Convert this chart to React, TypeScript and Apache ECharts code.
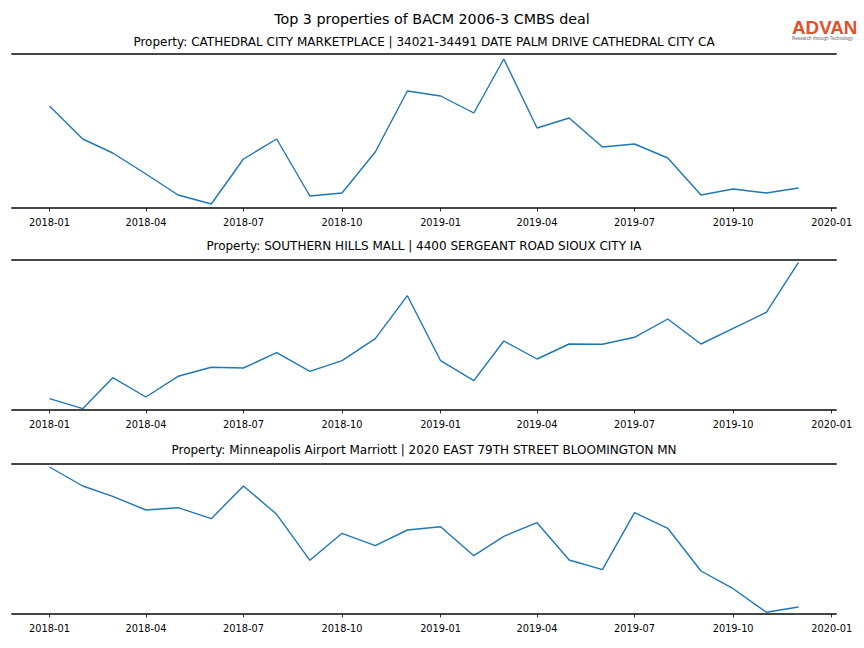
import React, { useEffect, useRef } from "react";
import * as echarts from "echarts";

const months = [
  "2018-01", "2018-02", "2018-03", "2018-04", "2018-05", "2018-06",
  "2018-07", "2018-08", "2018-09", "2018-10", "2018-11", "2018-12",
  "2019-01", "2019-02", "2019-03", "2019-04", "2019-05", "2019-06",
  "2019-07", "2019-08", "2019-09", "2019-10", "2019-11", "2019-12",
];

const tickLabels = [
  "2018-01", "2018-04", "2018-07", "2018-10", "2019-01",
  "2019-04", "2019-07", "2019-10", "2020-01",
];

const mainTitle = "Top 3 properties of BACM 2006-3 CMBS deal";

const panelTitles = [
  "Property: CATHEDRAL CITY MARKETPLACE | 34021-34491 DATE PALM DRIVE CATHEDRAL CITY CA",
  "Property: SOUTHERN HILLS MALL | 4400 SERGEANT ROAD SIOUX CITY IA",
  "Property: Minneapolis Airport Marriott | 2020 EAST 79TH STREET BLOOMINGTON MN",
];

const cathedralCity = [
  104, 71, 57, 36, 15, 6, 51, 71, 14, 17, 58, 119,
  114, 97, 151, 82, 92, 63, 66, 52, 15, 21, 17, 22,
];

const southernHills = [
  11.3, 1.3, 32.3, 13, 33.7, 42.7, 42, 57.3, 38.7, 49.3, 71.3, 114.3,
  49.3, 29.3, 69, 51, 66, 65.7, 72.7, 91, 66, 81.7, 97.7, 147.7,
];

const minneapolis = [
  147, 128, 117.7, 104, 106.3, 95.3, 128, 99.7, 53.7, 80.7, 68.3, 84,
  87.3, 58.3, 77.7, 91.3, 54, 44.3, 101.3, 85.7, 43, 25.3, 1.7, 7,
];

const seriesList = [cathedralCity, southernHills, minneapolis];
const yRanges = [
  [2, 156],
  [0, 150],
  [0, 150],
];

function toTime(s: string): number {
  const [y, m] = s.split("-").map(Number);
  return new Date(y, m - 1, 1).getTime();
}

function fmt(v: number): string {
  const d = new Date(v);
  const m = d.getMonth() + 1;
  return `${d.getFullYear()}-${m < 10 ? "0" + m : m}`;
}

export default function App() {
  const ref = useRef<HTMLDivElement>(null);

  useEffect(() => {
    if (!ref.current) return;
    const chart = echarts.init(ref.current, undefined, { renderer: "svg" });

    const xMin = new Date(2017, 10, 27).getTime();
    const xMax = new Date(2020, 0, 5).getTime();
    const tickValues = tickLabels.map(toTime);

    const grids = [
      { left: 12, right: 28, top: 54, height: 154 },
      { left: 12, right: 28, top: 260, height: 150 },
      { left: 12, right: 28, top: 464, height: 150 },
    ];

    const spine = { show: true, lineStyle: { color: "#454545", width: 2 } };

    const xAxes: any[] = [];
    const yAxes: any[] = [];
    const series: any[] = [];
    grids.forEach((_, i) => {
      xAxes.push({
        type: "value",
        gridIndex: i,
        min: xMin,
        max: xMax,
        position: "bottom",
        axisLine: spine,
        axisTick: {
          show: true,
          length: 3.5,
          customValues: tickValues,
          lineStyle: { color: "#000", width: 0.8 },
        },
        axisLabel: {
          show: true,
          customValues: tickValues,
          formatter: (v: number) => fmt(v),
          fontFamily: "DejaVu Sans",
          fontSize: 9.8,
          color: "#000",
          margin: 9,
          showMinLabel: true,
          showMaxLabel: true,
        },
        splitLine: { show: false },
      });
      xAxes.push({
        type: "value",
        gridIndex: i,
        min: xMin,
        max: xMax,
        position: "top",
        axisLine: spine,
        axisTick: { show: false },
        axisLabel: { show: false },
        splitLine: { show: false },
      });
      yAxes.push({
        type: "value",
        gridIndex: i,
        min: yRanges[i][0],
        max: yRanges[i][1],
        axisLine: { show: false },
        axisTick: { show: false },
        axisLabel: { show: false },
        splitLine: { show: false },
      });
      series.push({
        type: "line",
        xAxisIndex: i * 2,
        yAxisIndex: i,
        data: months.map((m, k) => [toTime(m), seriesList[i][k]]),
        showSymbol: false,
        symbol: "none",
        lineStyle: { color: "#1f77b4", width: 1.4 },
        itemStyle: { color: "#1f77b4" },
      });
    });

    const titleYs = [42, 246, 450];

    const graphic: any[] = [
      {
        type: "text",
        x: 432,
        y: 19,
        style: {
          text: mainTitle,
          fontFamily: "DejaVu Sans",
          fontSize: 14.3,
          fill: "#000",
          textAlign: "center",
          textVerticalAlign: "middle",
        },
      },
      ...panelTitles.map((t, i) => ({
        type: "text",
        x: 424,
        y: titleYs[i],
        style: {
          text: t,
          fontFamily: "DejaVu Sans",
          fontSize: 12,
          fill: "#000",
          textAlign: "center",
          textVerticalAlign: "middle",
        },
      })),
      {
        type: "text",
        x: 792,
        y: 27,
        style: {
          text: "ADVAN",
          fontFamily: "Liberation Sans",
          fontWeight: "bold",
          fontSize: 18.8,
          fill: "#e2502a",
          textAlign: "left",
          textVerticalAlign: "middle",
        },
      },
      {
        type: "text",
        x: 792,
        y: 38.5,
        style: {
          text: "Research through Technology",
          fontFamily: "Liberation Sans",
          fontSize: 4.6,
          fill: "#666",
          textAlign: "left",
          textVerticalAlign: "middle",
        },
      },
    ];

    chart.setOption({
      animation: false,
      backgroundColor: "#fff",
      grid: grids,
      xAxis: xAxes,
      yAxis: yAxes,
      series,
      graphic,
    });

    return () => chart.dispose();
  }, []);

  return (
    <div
      ref={ref}
      style={{ position: "fixed", left: 0, top: 0, width: 864, height: 648 }}
    />
  );
}
